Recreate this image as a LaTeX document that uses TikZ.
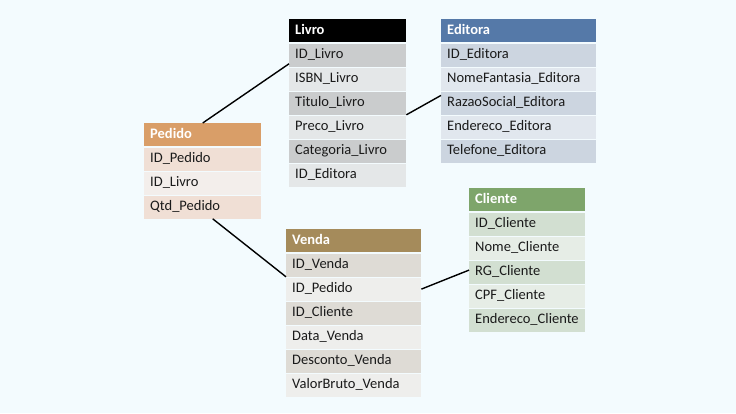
\documentclass[tikz,border=0pt]{standalone}
\usepackage{fontspec}
\setmainfont{Carlito}
\usetikzlibrary{positioning}
\definecolor{fundo}{HTML}{F3FBFE}
\definecolor{texto}{HTML}{1A1A1A}
\definecolor{livroH}{HTML}{000000}
\definecolor{livroE}{HTML}{CACCCD}
\definecolor{livroC}{HTML}{E4E7E8}
\definecolor{editoraH}{HTML}{5579A8}
\definecolor{editoraE}{HTML}{CCD5E0}
\definecolor{editoraC}{HTML}{E1E7EE}
\definecolor{pedidoH}{HTML}{D99E68}
\definecolor{pedidoE}{HTML}{F0DFD5}
\definecolor{pedidoC}{HTML}{F3EEEB}
\definecolor{vendaH}{HTML}{A58B5B}
\definecolor{vendaE}{HTML}{DEDBD5}
\definecolor{vendaC}{HTML}{EEEEEC}
\definecolor{clienteH}{HTML}{7EA56B}
\definecolor{clienteE}{HTML}{D2DFD1}
\definecolor{clienteC}{HTML}{E6EDE6}
\tikzset{
  cab/.style={anchor=north west,fill=#1,text=white,font=\fontsize{14.5}{16}\selectfont\bfseries,minimum height=23,inner xsep=6,inner ysep=0,align=left,text height=10,text depth=3},
  campo/.style={anchor=north west,fill=#1,text=texto,minimum height=23,inner xsep=6,inner ysep=0,align=left,text height=10,text depth=3},
  liga/.style={line width=1.4pt,black}
}
% #1 nome, #2 canto, #3 largura, #4 titulo, #5 campos
\newcommand{\tabela}[5]{%
  \pgfmathsetmacro\larg{#3-12}
  \node[cab=#1H,text width=\larg pt] (#1) at #2 {#4};
  \foreach \c [count=\i] in {#5}{
    \ifodd\i \def\cor{#1E}\else \def\cor{#1C}\fi
    \node[campo=\cor,text width=\larg pt] (#1-\i) at ([yshift={-24*\i+23}]#1.south west) {\c};
  }
}
\begin{document}
\begin{tikzpicture}[x=1pt,y=-1pt,font=\fontsize{14.5}{16}\selectfont]
	\path[use as bounding box,fill=fundo] (0,0) rectangle (736,413);
	\tabela{livro}{(289,19)}{117}{Livro}{ID\_Livro,ISBN\_Livro,Titulo\_Livro,Preco\_Livro,Categoria\_Livro,ID\_Editora}
	\tabela{editora}{(441,19)}{155}{Editora}{ID\_Editora,NomeFantasia\_Editora,RazaoSocial\_Editora,Endereco\_Editora,Telefone\_Editora}
	\tabela{pedido}{(144,123)}{117}{Pedido}{ID\_Pedido,ID\_Livro,Qtd\_Pedido}
	\tabela{venda}{(286,229)}{135}{Venda}{ID\_Venda,ID\_Pedido,ID\_Cliente,Data\_Venda,Desconto\_Venda,ValorBruto\_Venda}
	\tabela{cliente}{(469,188)}{116}{Cliente}{ID\_Cliente,Nome\_Cliente,RG\_Cliente,CPF\_Cliente,Endereco\_Cliente}
	% ligacoes
	\draw[liga] (pedido.north) -- ([yshift=3]livro-1.south west);
	\draw[liga] ([xshift=10]pedido-3.south) -- (venda-1.south west);
	\draw[liga] (livro-3.south east) -- ([yshift=-4]editora-3.north west);
	\draw[liga] (venda-2.east) -- ([yshift=2]cliente-3.west);
\end{tikzpicture}
\end{document}
